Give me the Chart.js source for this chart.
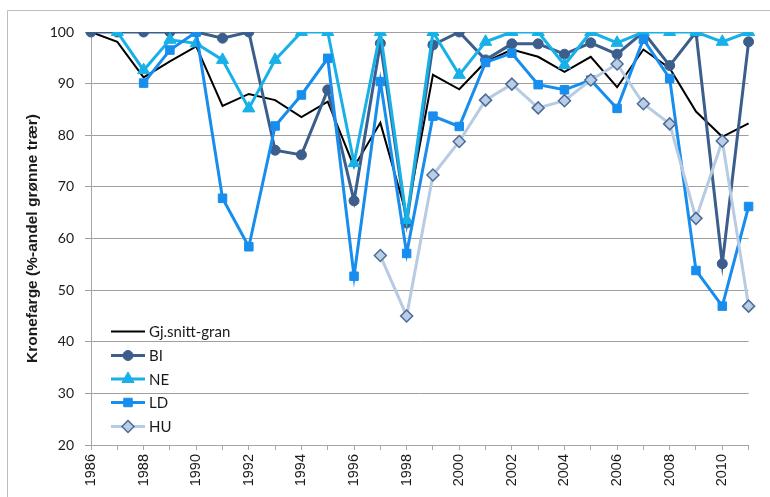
<!DOCTYPE html>
<html>
<head>
<meta charset="utf-8">
<script src="https://cdn.jsdelivr.net/npm/chart.js@4/dist/chart.umd.min.js"></script>
<style>
  html, body { margin: 0; padding: 0; background: #ffffff; }
  #wrap { position: relative; width: 770px; height: 497px; }
  canvas { display: block; }
</style>
</head>
<body>
<div id="wrap"><canvas id="c" width="770" height="497"></canvas></div>
<script>
// Year categories along the x axis
const years = [1986, 1987, 1988, 1989, 1990, 1991, 1992, 1993, 1994, 1995, 1996, 1997, 1998,
               1999, 2000, 2001, 2002, 2003, 2004, 2005, 2006, 2007, 2008, 2009, 2010, 2011];

// Crown colour, % share of green trees
const granMean = [100, 98.1, 91.2, 94.3, 97.2, 85.7, 88.0, 86.8, 83.5, 86.5, 73.9, 82.4, 64.5,
                  91.7, 88.9, 94.2, 96.6, 95.2, 92.3, 95.2, 89.3, 96.6, 93.0, 84.6, 79.7, 82.3];
const seriesBI = [100, 100, 100, 100, 100, 98.8, 100, 77.1, 76.2, 88.8, 67.3, 97.8, 63.0,
                  97.5, 100, 94.6, 97.7, 97.7, 95.7, 97.9, 95.7, 100, 93.5, 100, 55.1, 98.1];
const seriesNE = [null, 100, 92.6, 98.5, 97.8, 94.6, 85.2, 94.6, 100, 100, 74.6, 100, 63.6,
                  100, 91.7, 98.1, 100, 100, 93.6, 100, 97.9, 100, 100, 100, 98.1, 100];
const seriesLD = [null, null, 90.1, 96.5, 100, 67.8, 58.4, 81.8, 87.8, 94.9, 52.7, 90.4, 57.1,
                  83.7, 81.7, 94.1, 95.9, 89.8, 88.8, 90.7, 85.2, 98.6, 91.0, 53.8, 46.9, 66.2];
const seriesHU = [null, null, null, null, null, null, null, null, null, null, null, 56.7, 45.0,
                  72.3, 78.8, 86.8, 89.9, 85.3, 86.7, 90.7, 93.8, 86.1, 82.2, 63.9, 78.9, 46.9];

// Y axis range and step
const yMin = 20, yMax = 100, yStep = 10;

const seriesNames = ['Gj.snitt-gran', 'BI', 'NE', 'LD', 'HU'];

const datasets = [
  { label: seriesNames[0], data: granMean, borderColor: '#000000', backgroundColor: '#000000',
    borderWidth: 2, pointRadius: 0, pointHoverRadius: 0, order: 4 },
  { label: seriesNames[1], data: seriesBI, borderColor: '#3B5E8C', backgroundColor: '#3B5E8C',
    borderWidth: 3, pointStyle: 'circle', pointRadius: 5, pointBorderWidth: 1, order: 3 },
  { label: seriesNames[2], data: seriesNE, borderColor: '#17B1E8', backgroundColor: '#17B1E8',
    borderWidth: 3, pointStyle: 'triangle', pointRadius: 7, pointBorderWidth: 1, order: 2 },
  { label: seriesNames[3], data: seriesLD, borderColor: '#178DEE', backgroundColor: '#178DEE',
    borderWidth: 3, pointStyle: 'rect', pointRadius: 6, pointBorderWidth: 1, order: 1 },
  { label: seriesNames[4], data: seriesHU, borderColor: '#B7CBE3', backgroundColor: '#B9CDE5',
    borderWidth: 3, pointStyle: 'rectRot', pointRadius: 6, pointBorderWidth: 1.5,
    pointBorderColor: '#4C6C98', order: 0 }
];

// Outer frame, open at the right and bottom
const framePlugin = {
  id: 'frame',
  beforeDraw(chart) {
    const ctx = chart.ctx;
    ctx.save();
    ctx.fillStyle = '#ffffff';
    ctx.fillRect(0, 0, chart.width, chart.height);
    ctx.strokeStyle = '#BDBDBD';
    ctx.lineWidth = 1;
    ctx.beginPath();
    ctx.moveTo(7.5, chart.height);
    ctx.lineTo(7.5, 10.5);
    ctx.lineTo(chart.width, 10.5);
    ctx.stroke();
    ctx.restore();
  }
};

// Legend drawn inside the plot at the lower left
const legendPlugin = {
  id: 'insideLegend',
  afterDatasetsDraw(chart) {
    const ctx = chart.ctx;
    const x0 = 111, x1 = 145, tx = 149;
    const rowY = [331.5, 355.5, 379, 402.5, 426.5];
    ctx.save();
    chart.data.datasets.forEach((ds, i) => {
      const y = rowY[i];
      ctx.strokeStyle = ds.borderColor;
      ctx.lineWidth = ds.borderWidth;
      ctx.beginPath();
      ctx.moveTo(x0, y);
      ctx.lineTo(x1, y);
      ctx.stroke();
      if (ds.pointRadius > 0) {
        ctx.fillStyle = ds.backgroundColor;
        ctx.strokeStyle = ds.pointBorderColor || ds.borderColor;
        ctx.lineWidth = ds.pointBorderWidth;
        Chart.helpers.drawPoint(ctx, {
          pointStyle: ds.pointStyle,
          radius: ds.pointRadius,
          rotation: 0,
          borderWidth: ds.pointBorderWidth
        }, (x0 + x1) / 2, y);
      }
      ctx.fillStyle = '#1a1a1a';
      ctx.font = '15px Lato, "Liberation Sans", sans-serif';
      ctx.textBaseline = 'middle';
      ctx.textAlign = 'left';
      ctx.fillText(ds.label, tx, y + 1);
    });
    ctx.restore();
  }
};

new Chart(document.getElementById('c'), {
  type: 'line',
  data: { labels: years.map(String), datasets },
  options: {
    responsive: false,
    animation: false,
    events: [],
    layout: { padding: { left: 0, top: 32, right: 17, bottom: 0 } },
    elements: { line: { tension: 0, fill: false } },
    plugins: {
      legend: { display: false },
      tooltip: { enabled: false }
    },
    scales: {
      x: {
        type: 'category',
        offset: false,
        border: { display: true, color: '#A6A6A6', width: 1 },
        grid: { drawOnChartArea: false, drawTicks: true, tickLength: 5, color: '#A6A6A6' },
        ticks: {
          autoSkip: false,
          maxRotation: 90,
          minRotation: 90,
          padding: 4,
          color: '#1a1a1a',
          font: { family: '"Liberation Sans", Arial, sans-serif', size: 14.5 },
          callback: function (v, i) { return years[i] % 2 === 0 ? String(years[i]) : ''; }
        },
        afterFit(scale) { scale.height = 52; }
      },
      y: {
        min: yMin,
        max: yMax,
        border: { display: true, color: '#A6A6A6', width: 1 },
        grid: { color: '#A0A0A0', lineWidth: 1, drawTicks: true, tickLength: 6 },
        ticks: {
          stepSize: yStep,
          padding: 11,
          color: '#1a1a1a',
          font: { family: 'Lato, "Liberation Sans", sans-serif', size: 14 }
        },
        title: {
          display: true,
          text: 'Kronefarge (%-andel grønne trær)',
          color: '#1a1a1a',
          font: { family: '"Liberation Sans", Arial, sans-serif', size: 15.5, weight: 'bold' },
          padding: { top: 23, bottom: 0 }
        },
        afterFit(scale) { scale.width = 91; }
      }
    }
  },
  plugins: [framePlugin, legendPlugin]
});
</script>
</body>
</html>
